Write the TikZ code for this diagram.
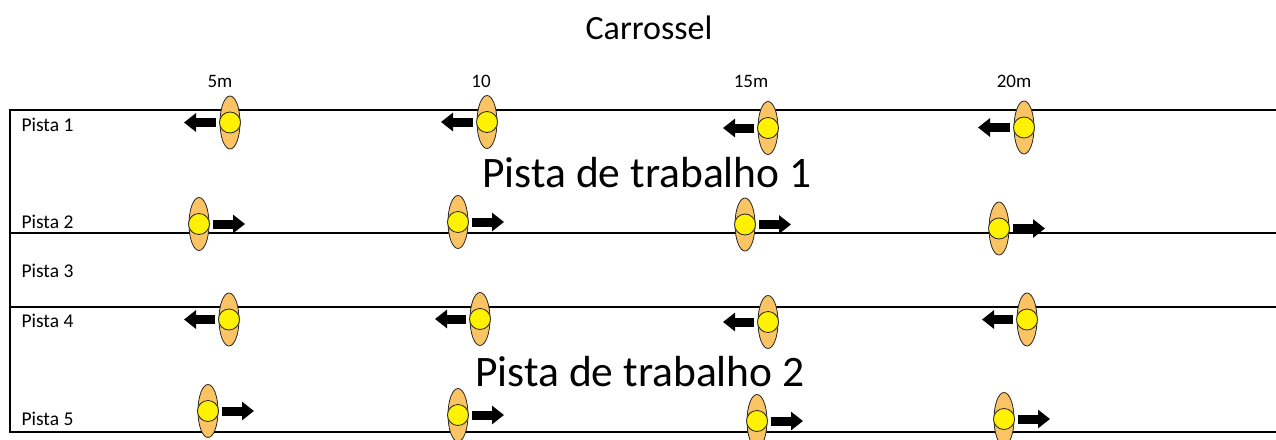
\documentclass[tikz,border=0pt]{standalone}
\usepackage{fontspec}
\setmainfont{Carlito}
\usetikzlibrary{shapes.geometric,arrows.meta}
\definecolor{horsefill}{RGB}{250,195,100}
\tikzset{
  horse/.style={ellipse,draw=black!85,fill=horsefill,line width=0.8pt,
    minimum width=20pt,minimum height=53pt,inner sep=0pt},
  rider/.style={circle,draw=black!85,fill=yellow,line width=0.8pt,
    minimum size=21pt,inner sep=0pt},
  move/.style={line width=9pt,-{Triangle[length=12pt,width=18pt]}},
  lane/.style={line width=1.2pt},
  tag/.style={font=\fontsize{19.5}{19.5}\selectfont,anchor=base west},
  dist/.style={font=\fontsize{19}{19}\selectfont,anchor=base},
  work/.style={font=\fontsize{43.5}{43.5}\selectfont,anchor=base},
}
\begin{document}
\begin{tikzpicture}[x=1pt,y=-1pt]
  \useasboundingbox (0,0) rectangle (1276,439);
  % lanes
  \draw[lane] (1276,110) -- (10,110) -- (10,432) -- (1276,432);
  \draw[lane] (10,233) -- (1276,233);
  \draw[lane] (10,307) -- (1276,307);
  % titles
  \node[font=\fontsize{34}{34}\selectfont,anchor=base] (title) at (649,39) {Carrossel};
  \node[work] (work1) at (647,187) {Pista de trabalho 1};
  \node[work] (work2) at (640,386) {Pista de trabalho 2};
  % distances
  \node[dist] (d5) at (220,87) {5m};
  \node[dist] (d10) at (481,87) {10};
  \node[dist] (d15) at (751,87) {15m};
  \node[dist] (d20) at (1014,87) {20m};
  % lane names
  \node[tag] (p1) at (18,131) {Pista 1};
  \node[tag] (p2) at (18,228) {Pista 2};
  \node[tag] (p3) at (18,277) {Pista 3};
  \node[tag] (p4) at (18,327) {Pista 4};
  \node[tag] (p5) at (18,425) {Pista 5};
  % horses
  \node[horse] (h11) at (230,122.5) {};
  \node[horse] (h12) at (487,122) {};
  \node[horse] (h13) at (768,128) {};
  \node[horse] (h14) at (1024,127.5) {};
  \node[horse] (h21) at (199,224) {};
  \node[horse] (h22) at (458,222) {};
  \node[horse] (h23) at (745,224.5) {};
  \node[horse] (h24) at (999,228.5) {};
  \node[horse] (h41) at (229,319.5) {};
  \node[horse] (h42) at (480,319) {};
  \node[horse] (h43) at (768,322) {};
  \node[horse] (h44) at (1027,319.5) {};
  \node[horse] (h51) at (208,411) {};
  \node[horse] (h52) at (458,415) {};
  \node[horse] (h53) at (757,421) {};
  \node[horse] (h54) at (1004,419) {};
  % riders
  \node[rider] (r11) at (h11) {};
  \node[rider] (r12) at (h12) {};
  \node[rider] (r13) at (h13) {};
  \node[rider] (r14) at (h14) {};
  \node[rider] (r21) at (h21) {};
  \node[rider] (r22) at (h22) {};
  \node[rider] (r23) at (h23) {};
  \node[rider] (r24) at (h24) {};
  \node[rider] (r41) at (h41) {};
  \node[rider] (r42) at (h42) {};
  \node[rider] (r43) at (h43) {};
  \node[rider] (r44) at (h44) {};
  \node[rider] (r51) at (h51) {};
  \node[rider] (r52) at (h52) {};
  \node[rider] (r53) at (h53) {};
  \node[rider] (r54) at (h54) {};
  % directions
  \draw[move] ([xshift=-14pt]r11.center) -- ([xshift=-46pt]r11.center);
  \draw[move] ([xshift=-14pt]r12.center) -- ([xshift=-46pt]r12.center);
  \draw[move] ([xshift=-14pt]r13.center) -- ([xshift=-45pt]r13.center);
  \draw[move] ([xshift=-14pt]r14.center) -- ([xshift=-46pt]r14.center);
  \draw[move] ([xshift=14pt]r21.center) -- ([xshift=46pt]r21.center);
  \draw[move] ([xshift=14pt]r22.center) -- ([xshift=46pt]r22.center);
  \draw[move] ([xshift=14pt]r23.center) -- ([xshift=46pt]r23.center);
  \draw[move] ([xshift=14pt]r24.center) -- ([xshift=46pt]r24.center);
  \draw[move] ([xshift=-14pt]r41.center) -- ([xshift=-45pt]r41.center);
  \draw[move] ([xshift=-14pt]r42.center) -- ([xshift=-45pt]r42.center);
  \draw[move] ([xshift=-14pt]r43.center) -- ([xshift=-45pt]r43.center);
  \draw[move] ([xshift=-14pt]r44.center) -- ([xshift=-45pt]r44.center);
  \draw[move] ([xshift=14pt]r51.center) -- ([xshift=46pt]r51.center);
  \draw[move] ([xshift=14pt]r52.center) -- ([xshift=46pt]r52.center);
  \draw[move] ([xshift=14pt]r53.center) -- ([xshift=46pt]r53.center);
  \draw[move] ([xshift=14pt]r54.center) -- ([xshift=46pt]r54.center);
\end{tikzpicture}
\end{document}
